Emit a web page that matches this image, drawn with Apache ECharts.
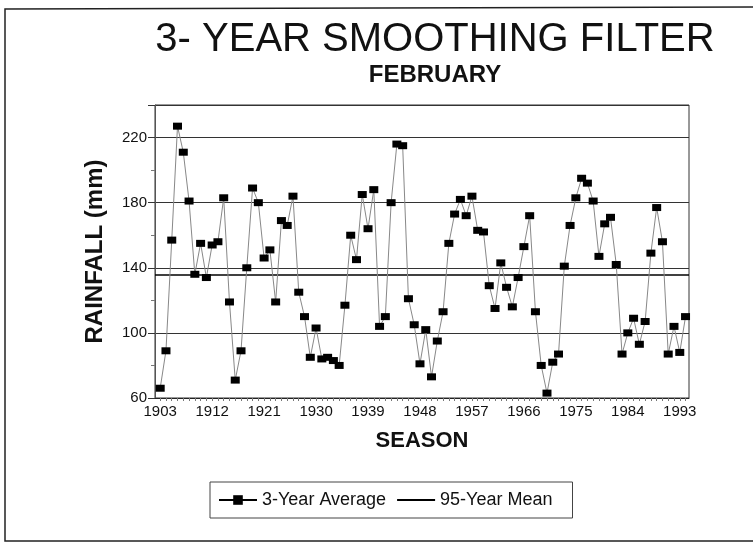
<!DOCTYPE html>
<html>
<head>
<meta charset="utf-8">
<script src="https://cdn.jsdelivr.net/npm/echarts@6/dist/echarts.min.js"></script>
<style>
  html, body { margin: 0; padding: 0; background: #fff; }
  #main { width: 753px; height: 547px; }
</style>
</head>
<body>
<div id="main"></div>
<script>
// seasons (one point per year)
const years = [
  1903, 1904, 1905, 1906, 1907, 1908, 1909, 1910, 1911, 1912,
  1913, 1914, 1915, 1916, 1917, 1918, 1919, 1920, 1921, 1922,
  1923, 1924, 1925, 1926, 1927, 1928, 1929, 1930, 1931, 1932,
  1933, 1934, 1935, 1936, 1937, 1938, 1939, 1940, 1941, 1942,
  1943, 1944, 1945, 1946, 1947, 1948, 1949, 1950, 1951, 1952,
  1953, 1954, 1955, 1956, 1957, 1958, 1959, 1960, 1961, 1962,
  1963, 1964, 1965, 1966, 1967, 1968, 1969, 1970, 1971, 1972,
  1973, 1974, 1975, 1976, 1977, 1978, 1979, 1980, 1981, 1982,
  1983, 1984, 1985, 1986, 1987, 1988, 1989, 1990, 1991, 1992,
  1993, 1994
];
// 3-year average rainfall (mm)
const threeYearAvg = [
  66, 89, 157, 227, 211, 181, 136, 155, 134, 154,
  156, 183, 119, 71, 89, 140, 189, 180, 146, 151,
  119, 169, 166, 184, 125, 110, 85, 103, 84, 85,
  83, 80, 117, 160, 145, 185, 164, 188, 104, 110,
  180, 216, 215, 121, 105, 81, 102, 73, 95, 113,
  155, 173, 182, 172, 184, 163, 162, 129, 115, 143,
  128, 116, 134, 153, 172, 113, 80, 63, 82, 87,
  141, 166, 183, 195, 192, 181, 147, 167, 171, 142,
  87, 100, 109, 93, 107, 149, 177, 156, 87, 104,
  88, 110
];
const meanValue = 135.5;   // 95-year mean
const xLabelYears = [1903, 1912, 1921, 1930, 1939, 1948, 1957, 1966, 1975, 1984, 1993];

const xMin = 1902.1;
const xMax = 1994.6;
const font = 'Liberation Sans, Arial, sans-serif';

const chart = echarts.init(document.getElementById('main'));

const option = {
  backgroundColor: '#fff',
  animation: false,
  textStyle: { fontFamily: font, color: '#000' },
  title: [
    {
      text: '3- YEAR SMOOTHING FILTER',
      left: 430, top: 15, textAlign: 'center',
      textStyle: { fontSize: 40, fontWeight: 'normal', color: '#111', fontFamily: font }
    },
    {
      text: 'FEBRUARY',
      left: 430, top: 58, textAlign: 'center',
      textStyle: { fontSize: 24, fontWeight: 'bold', color: '#111', fontFamily: font }
    }
  ],
  grid: {
    left: 155, right: 64, top: 105, bottom: 149,
    show: true, borderColor: '#333', borderWidth: 1
  },
  legend: {
    left: 210, top: 482,
    orient: 'horizontal',
    padding: [9, 20, 9, 8],
    itemGap: 10,
    itemWidth: 38, itemHeight: 12,
    borderColor: '#444', borderWidth: 1,
    textStyle: { fontSize: 18, color: '#111', fontFamily: font },
    data: [
      { name: '3-Year Average', lineStyle: { color: '#000' } },
      { name: '95-Year Mean', itemStyle: { color: 'rgba(0,0,0,0)', borderWidth: 0 } }
    ]
  },
  xAxis: {
    type: 'value',
    min: xMin, max: xMax,
    name: 'SEASON',
    nameLocation: 'middle',
    nameGap: 32,
    nameTextStyle: { fontSize: 22, fontWeight: 'bold', color: '#111', fontFamily: font },
    axisLine: { show: true, lineStyle: { color: '#222', width: 1 } },
    axisTick: { show: true, customValues: years, length: 3, lineStyle: { color: '#777' } },
    axisLabel: {
      customValues: xLabelYears,
      formatter: (v) => String(v),
      fontSize: 15, color: '#111', margin: 6, fontFamily: font
    },
    splitLine: { show: false }
  },
  yAxis: {
    type: 'value',
    min: 60, max: 240, interval: 40,
    name: 'RAINFALL (mm)',
    nameLocation: 'middle',
    nameRotate: 90,
    nameGap: 48,
    nameTextStyle: { fontSize: 24, fontWeight: 'bold', color: '#111', fontFamily: font },
    axisLine: { show: true, lineStyle: { color: '#555', width: 1 } },
    axisTick: { show: true, length: 7, lineStyle: { color: '#333' } },
    minorTick: { show: true, splitNumber: 2, length: 4, lineStyle: { color: '#777' } },
    axisLabel: { fontSize: 15, color: '#111', margin: 8, showMaxLabel: false, fontFamily: font },
    splitLine: { show: true, lineStyle: { color: '#333', width: 1 } }
  },
  series: [
    {
      name: '3-Year Average',
      type: 'line',
      data: years.map((y, i) => [y, threeYearAvg[i]]),
      symbol: 'rect',
      symbolSize: [9, 7],
      itemStyle: { color: '#000' },
      lineStyle: { color: '#888', width: 1 },
      z: 5
    },
    {
      name: '95-Year Mean',
      type: 'line',
      data: [[xMin, meanValue], [xMax, meanValue]],
      symbol: 'none',
      itemStyle: { color: '#000' },
      lineStyle: { color: '#000', width: 1.5 },
      z: 4
    }
  ],
  graphic: [
    {
      type: 'polyline',
      shape: { points: [[753, 7], [5, 9], [5, 541], [753, 541]] },
      style: { stroke: '#222', lineWidth: 1.5, fill: null },
      silent: true
    }
  ]
};

chart.setOption(option);
</script>
</body>
</html>
